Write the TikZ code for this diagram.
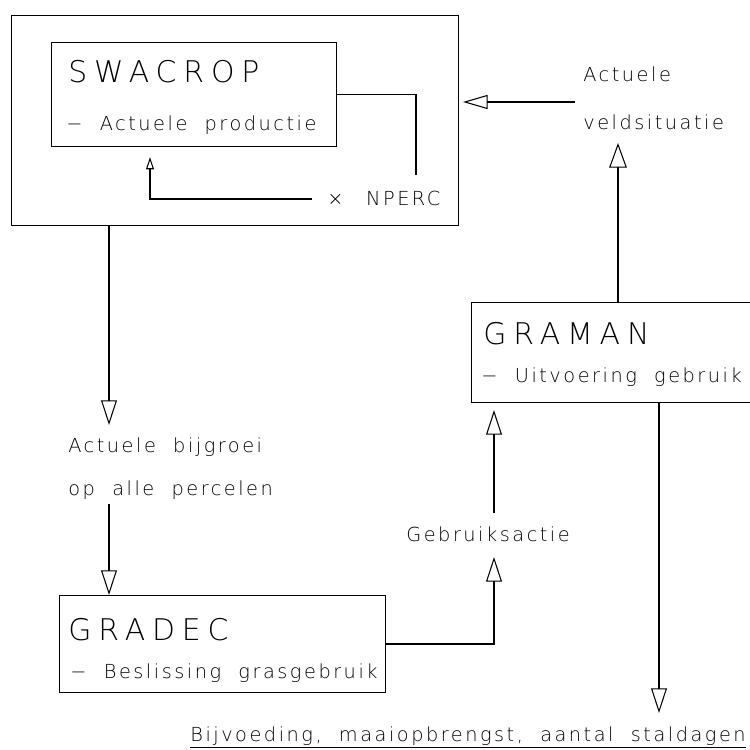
\documentclass[tikz,border=0pt]{standalone}
\usepackage{fontspec}
\setmainfont{DejaVu Sans ExtraLight}
\newfontfamily\kopfont{DejaVu Sans ExtraLight}[LetterSpace=23,WordSpace=2]
\newfontfamily\tekstfont{DejaVu Sans ExtraLight}[LetterSpace=13,WordSpace=2]
\usetikzlibrary{arrows.meta}

\tikzset{
  blok/.style={draw, line width=0.6pt, anchor=north west, inner sep=0pt},
  kop/.style={anchor=base west, inner sep=0pt, font=\kopfont\fontsize{17}{20}\selectfont},
  tekst/.style={anchor=base west, inner sep=0pt, font=\tekstfont\fontsize{11}{13}\selectfont},
  lijn/.style={line width=0.6pt},
  pijl/.style={line width=0.6pt, -{Triangle[open,length=14pt,width=9pt]}},
  kleinepijl/.style={line width=0.6pt, -{Triangle[open,length=7pt,width=4.5pt]}},
}

\begin{document}
\begin{tikzpicture}[x=0.02cm, y=-0.02cm]
  \useasboundingbox (0,0) rectangle (750,750);
  % blokken
  \node[blok, minimum width=8.94cm, minimum height=4.2cm] (model) at (11,15) {};
  \node[blok, minimum width=5.7cm, minimum height=2.08cm] (swacrop) at (51,42) {};
  \node[blok, minimum width=6.52cm, minimum height=1.94cm] (gradec) at (59,595) {};
  \node[blok, minimum width=6.0cm, minimum height=2cm] (graman) at (471,302) {};
  % teksten
  \node[kop] (swacroptitel) at (68,83) {SWACROP};
  \node[tekst] (swacropsub) at (66,131) {− Actuele productie};
  \node[tekst] (nperc) at (327,205) {×\hspace{3pt} NPERC};
  \node[tekst] (veld1) at (583,82) {Actuele};
  \node[tekst] (veld2) at (583,130) {veldsituatie};
  \node[tekst] (groei1) at (68,452) {Actuele bijgroei};
  \node[tekst] (groei2) at (68,495) {op alle percelen};
  \node[kop] (gradectitel) at (68,640) {GRADEC};
  \node[tekst] (gradecsub) at (70,678) {− Beslissing grasgebruik};
  \node[tekst] (actie) at (406,541) {Gebruiksactie};
  \node[kop] (gramantitel) at (483,344) {GRAMAN};
  \node[tekst] (gramansub) at (481,382) {− Uitvoering gebruik};
  \node[tekst] (uitvoer) at (190,741) {\underline{Bijvoeding, maaiopbrengst, aantal staldagen}};
  % hulppunten
  \coordinate (terug) at (416,175);
  \coordinate (npstart) at (312,199);
  \coordinate (nptip) at (150,157);
  \coordinate (veldstart) at (575,102);
  \coordinate (veldtip) at (463,102);
  \coordinate (omhoog) at (618,143);
  \coordinate (groeitip) at (109,425);
  \coordinate (groeistart) at (109,504);
  \coordinate (actiestart) at (494,513);
  \coordinate (actietip) at (494,557);
  \coordinate (uittip) at (659,713);
  % verbindingen
  \draw[lijn] (swacrop.east) -| (terug);
  \draw[kleinepijl] (npstart) -| (nptip);
  \draw[pijl, -{Triangle[open,length=14pt,width=8pt]}] (veldstart) -- (veldtip);
  \draw[pijl, -{Triangle[open,length=14pt,width=10pt]}] (graman.north -| omhoog) -- (omhoog);
  \draw[pijl] (model.south -| groeitip) -- (groeitip);
  \draw[pijl] (groeistart) -- (gradec.north -| groeistart);
  \draw[pijl] (gradec.east) -| (actietip);
  \draw[pijl, shorten >=4pt] (actiestart) -- (graman.south -| actiestart);
  \draw[pijl] (graman.south -| uittip) -- (uittip);
\end{tikzpicture}
\end{document}
